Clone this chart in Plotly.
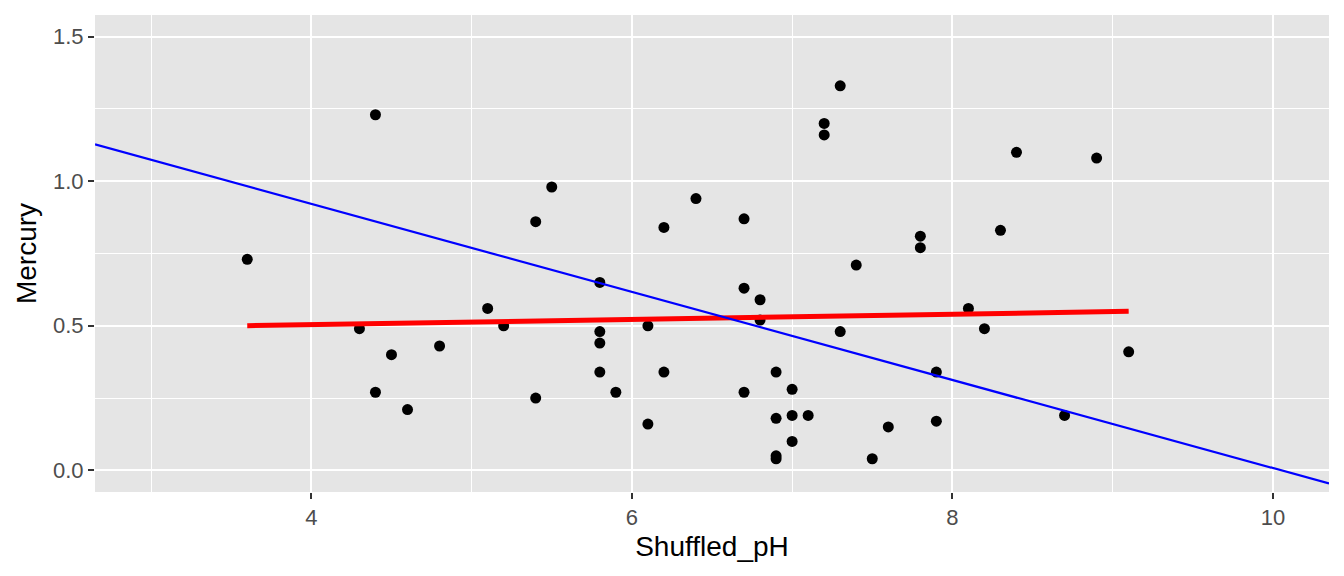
import numpy as np
import plotly.graph_objects as go

shuffled_ph = [3.6, 4.3, 4.4, 4.4, 4.5, 4.6, 4.8, 5.1, 5.2, 5.4, 5.4, 5.5, 5.8, 5.8, 5.8, 5.8,
               5.9, 6.1, 6.1, 6.2, 6.2, 6.4, 6.7, 6.7, 6.7, 6.8, 6.8, 6.9, 6.9, 6.9, 6.9,
               7.0, 7.0, 7.0, 7.1, 7.2, 7.2, 7.3, 7.3, 7.4, 7.5, 7.6, 7.8, 7.8, 7.9, 7.9,
               8.1, 8.2, 8.3, 8.4, 8.7, 8.9, 9.1]
mercury = [0.73, 0.49, 1.23, 0.27, 0.40, 0.21, 0.43, 0.56, 0.50, 0.86, 0.25, 0.98, 0.65, 0.48, 0.44, 0.34,
           0.27, 0.50, 0.16, 0.84, 0.34, 0.94, 0.87, 0.63, 0.27, 0.59, 0.52, 0.34, 0.18, 0.05, 0.04,
           0.28, 0.19, 0.10, 0.19, 1.20, 1.16, 1.33, 0.48, 0.71, 0.04, 0.15, 0.81, 0.77, 0.34, 0.17,
           0.56, 0.49, 0.83, 1.10, 0.19, 1.08, 0.41]

# original (unshuffled) regression line
abline_intercept = 1.5309
abline_slope = -0.1523

x_range = [2.65, 10.35]
y_range = [-0.075, 1.575]
x_ticks = [4, 6, 8, 10]
y_ticks = [0.0, 0.5, 1.0, 1.5]
y_tick_labels = ["0.0", "0.5", "1.0", "1.5"]

x = np.array(shuffled_ph)
y = np.array(mercury)
slope, intercept = np.polyfit(x, y, 1)
fit_x = np.array([x.min(), x.max()])
fit_y = intercept + slope * fit_x

ab_x = np.array(x_range)
ab_y = abline_intercept + abline_slope * ab_x

fig = go.Figure()
fig.add_trace(go.Scatter(x=x, y=y, mode="markers",
                         marker=dict(color="black", size=11, line=dict(width=0)),
                         showlegend=False, hoverinfo="x+y"))
fig.add_trace(go.Scatter(x=fit_x, y=fit_y, mode="lines",
                         line=dict(color="#FF0000", width=5), showlegend=False))
fig.add_trace(go.Scatter(x=ab_x, y=ab_y, mode="lines",
                         line=dict(color="#0000FF", width=2.2), showlegend=False))

font_family = "Liberation Sans, Arial, sans-serif"
fig.update_layout(
    width=1328, height=560,
    margin=dict(l=87, r=7, t=7, b=76),
    paper_bgcolor="white",
    plot_bgcolor="#E5E5E5",
    font=dict(family=font_family, color="#4D4D4D"),
)
fig.update_xaxes(
    range=x_range, tickvals=x_ticks, ticktext=[str(v) for v in x_ticks],
    showgrid=True, gridcolor="white", gridwidth=2.3,
    minor=dict(tickvals=[3, 5, 7, 9], showgrid=True, gridcolor="white", gridwidth=1.2, ticks=""),
    zeroline=False, showline=False,
    ticks="outside", ticklen=6, tickwidth=2.2, tickcolor="#333333",
    tickfont=dict(size=22, color="#4D4D4D"),
    title=dict(text="Shuffled_pH", font=dict(size=28, color="black"), standoff=6),
)
fig.update_yaxes(
    range=y_range, tickvals=y_ticks, ticktext=y_tick_labels,
    showgrid=True, gridcolor="white", gridwidth=2.3,
    minor=dict(tickvals=[0.25, 0.75, 1.25], showgrid=True, gridcolor="white", gridwidth=1.2, ticks=""),
    zeroline=False, showline=False,
    ticks="outside", ticklen=6, tickwidth=2.2, tickcolor="#333333",
    tickfont=dict(size=22, color="#4D4D4D"),
    title=dict(text="Mercury", font=dict(size=28, color="black"), standoff=8),
)

fig.write_html("out.html")
